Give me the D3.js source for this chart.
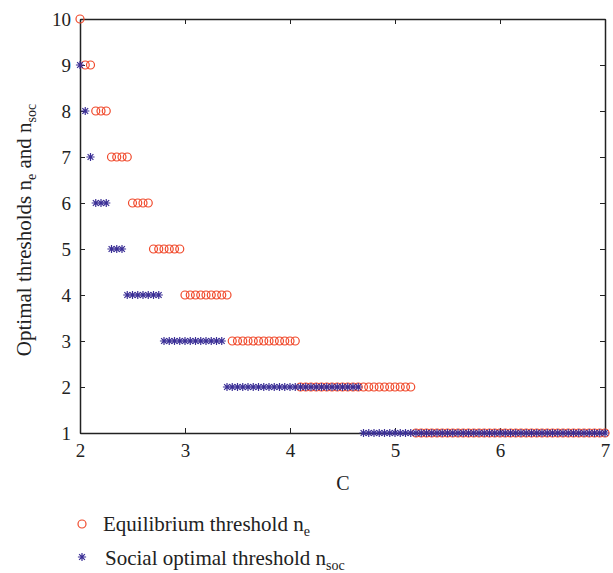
<!DOCTYPE html>
<html>
<head>
<meta charset="utf-8">
<script src="https://cdn.jsdelivr.net/npm/d3@7"></script>
<style>
  body { margin: 0; background: #fff; }
  svg text, svg tspan { font-family: "Liberation Serif", "DejaVu Serif", serif; fill: #222; }
</style>
</head>
<body>
<svg width="613" height="573"></svg>
<script>
// cost values C, sampled along the x axis
const cValues = [
  2.00, 2.05, 2.10, 2.15, 2.20, 2.25, 2.30, 2.35, 2.40, 2.45,
  2.50, 2.55, 2.60, 2.65, 2.70, 2.75, 2.80, 2.85, 2.90, 2.95,
  3.00, 3.05, 3.10, 3.15, 3.20, 3.25, 3.30, 3.35, 3.40, 3.45,
  3.50, 3.55, 3.60, 3.65, 3.70, 3.75, 3.80, 3.85, 3.90, 3.95,
  4.00, 4.05, 4.10, 4.15, 4.20, 4.25, 4.30, 4.35, 4.40, 4.45,
  4.50, 4.55, 4.60, 4.65, 4.70, 4.75, 4.80, 4.85, 4.90, 4.95,
  5.00, 5.05, 5.10, 5.15, 5.20, 5.25, 5.30, 5.35, 5.40, 5.45,
  5.50, 5.55, 5.60, 5.65, 5.70, 5.75, 5.80, 5.85, 5.90, 5.95,
  6.00, 6.05, 6.10, 6.15, 6.20, 6.25, 6.30, 6.35, 6.40, 6.45,
  6.50, 6.55, 6.60, 6.65, 6.70, 6.75, 6.80, 6.85, 6.90, 6.95,
  7.00
]

// equilibrium threshold n_e
const neValues = [
  10, 9, 9, 8, 8, 8, 7, 7, 7, 7,
  6, 6, 6, 6, 5, 5, 5, 5, 5, 5,
  4, 4, 4, 4, 4, 4, 4, 4, 4, 3,
  3, 3, 3, 3, 3, 3, 3, 3, 3, 3,
  3, 3, 2, 2, 2, 2, 2, 2, 2, 2,
  2, 2, 2, 2, 2, 2, 2, 2, 2, 2,
  2, 2, 2, 2, 1, 1, 1, 1, 1, 1,
  1, 1, 1, 1, 1, 1, 1, 1, 1, 1,
  1, 1, 1, 1, 1, 1, 1, 1, 1, 1,
  1, 1, 1, 1, 1, 1, 1, 1, 1, 1,
  1
]

// social optimal threshold n_soc
const nsocValues = [
  9, 8, 7, 6, 6, 6, 5, 5, 5, 4,
  4, 4, 4, 4, 4, 4, 3, 3, 3, 3,
  3, 3, 3, 3, 3, 3, 3, 3, 2, 2,
  2, 2, 2, 2, 2, 2, 2, 2, 2, 2,
  2, 2, 2, 2, 2, 2, 2, 2, 2, 2,
  2, 2, 2, 2, 1, 1, 1, 1, 1, 1,
  1, 1, 1, 1, 1, 1, 1, 1, 1, 1,
  1, 1, 1, 1, 1, 1, 1, 1, 1, 1,
  1, 1, 1, 1, 1, 1, 1, 1, 1, 1,
  1, 1, 1, 1, 1, 1, 1, 1, 1, 1,
  1
]

const xTicks = [2, 3, 4, 5, 6, 7]
const yTicks = [1, 2, 3, 4, 5, 6, 7, 8, 9, 10]

const red = '#f04a2c'
const blue = '#3b2f96'
const serif = '"Liberation Serif", "DejaVu Serif", serif'

const svg = d3.select('svg')
const plotLeft = 80, plotRight = 605, plotTop = 19, plotBottom = 433

const xScale = d3.scaleLinear().domain([2, 7]).range([plotLeft, plotRight])
const yScale = d3.scaleLinear().domain([1, 10]).range([plotBottom, plotTop])

// inward ticks on all four sides, MATLAB style
const tickLen = 5
svg.append('g')
  .attr('transform', `translate(0, ${plotBottom})`)
  .call(d3.axisBottom(xScale).tickValues(xTicks).tickFormat(d3.format('d'))
    .tickSizeInner(-tickLen).tickSizeOuter(0).tickPadding(11))
svg.append('g')
  .attr('transform', `translate(0, ${plotTop})`)
  .call(d3.axisTop(xScale).tickValues(xTicks).tickSizeInner(-tickLen).tickSizeOuter(0).tickFormat(''))
svg.append('g')
  .attr('transform', `translate(${plotLeft}, 0)`)
  .call(d3.axisLeft(yScale).tickValues(yTicks).tickFormat(d3.format('d'))
    .tickSizeInner(-tickLen).tickSizeOuter(0).tickPadding(9))
svg.append('g')
  .attr('transform', `translate(${plotRight}, 0)`)
  .call(d3.axisRight(yScale).tickValues(yTicks).tickSizeInner(-tickLen).tickSizeOuter(0).tickFormat(''))

svg.selectAll('.domain').attr('stroke', '#222').attr('stroke-width', 1.5)
svg.selectAll('.tick line').attr('stroke', '#222').attr('stroke-width', 1)
svg.selectAll('.tick text')
  .style('font-family', serif)
  .style('font-size', '19px')
  .attr('fill', '#222')

// asterisk marker: plus and cross together
function asterisk(r) {
  const d = r * Math.SQRT1_2
  return `M${-r},0L${r},0M0,${-r}L0,${r}M${-d},${-d}L${d},${d}M${-d},${d}L${d},${-d}`
}

const points = cValues.map((c, i) => ({ c, ne: neValues[i], nsoc: nsocValues[i] }))

svg.append('g').selectAll('circle')
  .data(points)
  .enter()
  .append('circle')
  .attr('cx', d => xScale(d.c))
  .attr('cy', d => yScale(d.ne))
  .attr('r', 4)
  .attr('fill', 'none')
  .attr('stroke', red)
  .attr('stroke-width', 1.2)

svg.append('g').selectAll('path')
  .data(points)
  .enter()
  .append('path')
  .attr('transform', d => `translate(${xScale(d.c)}, ${yScale(d.nsoc)})`)
  .attr('d', asterisk(4.1))
  .attr('fill', 'none')
  .attr('stroke', blue)
  .attr('stroke-width', 1.2)

// axis labels
svg.append('text')
  .attr('x', 343)
  .attr('y', 490)
  .attr('text-anchor', 'middle')
  .style('font-family', serif)
  .style('font-size', '20px')
  .text('C')

const yLabel = svg.append('text')
  .attr('transform', 'translate(31, 230) rotate(-90)')
  .attr('text-anchor', 'middle')
  .style('font-family', serif)
  .style('font-size', '21px')
yLabel.append('tspan').text('Optimal thresholds n')
yLabel.append('tspan').attr('dy', 5).style('font-size', '14px').text('e')
yLabel.append('tspan').attr('dy', -5).text(' and n')
yLabel.append('tspan').attr('dy', 5).style('font-size', '14px').text('soc')

// legend
const legend = svg.append('g')
legend.append('circle')
  .attr('cx', 82).attr('cy', 524).attr('r', 4)
  .attr('fill', 'none').attr('stroke', red).attr('stroke-width', 1.2)
legend.append('path')
  .attr('transform', 'translate(82, 557)')
  .attr('d', asterisk(4.1))
  .attr('fill', 'none').attr('stroke', blue).attr('stroke-width', 1.2)

const t1 = legend.append('text').attr('x', 103).attr('y', 531)
  .style('font-family', serif).style('font-size', '21px')
t1.append('tspan').text('Equilibrium threshold n')
t1.append('tspan').attr('dy', 5).style('font-size', '14px').text('e')

const t2 = legend.append('text').attr('x', 105).attr('y', 565)
  .style('font-family', serif).style('font-size', '21px')
t2.append('tspan').text('Social optimal threshold n')
t2.append('tspan').attr('dy', 5).style('font-size', '14px').text('soc')
</script>
</body>
</html>
